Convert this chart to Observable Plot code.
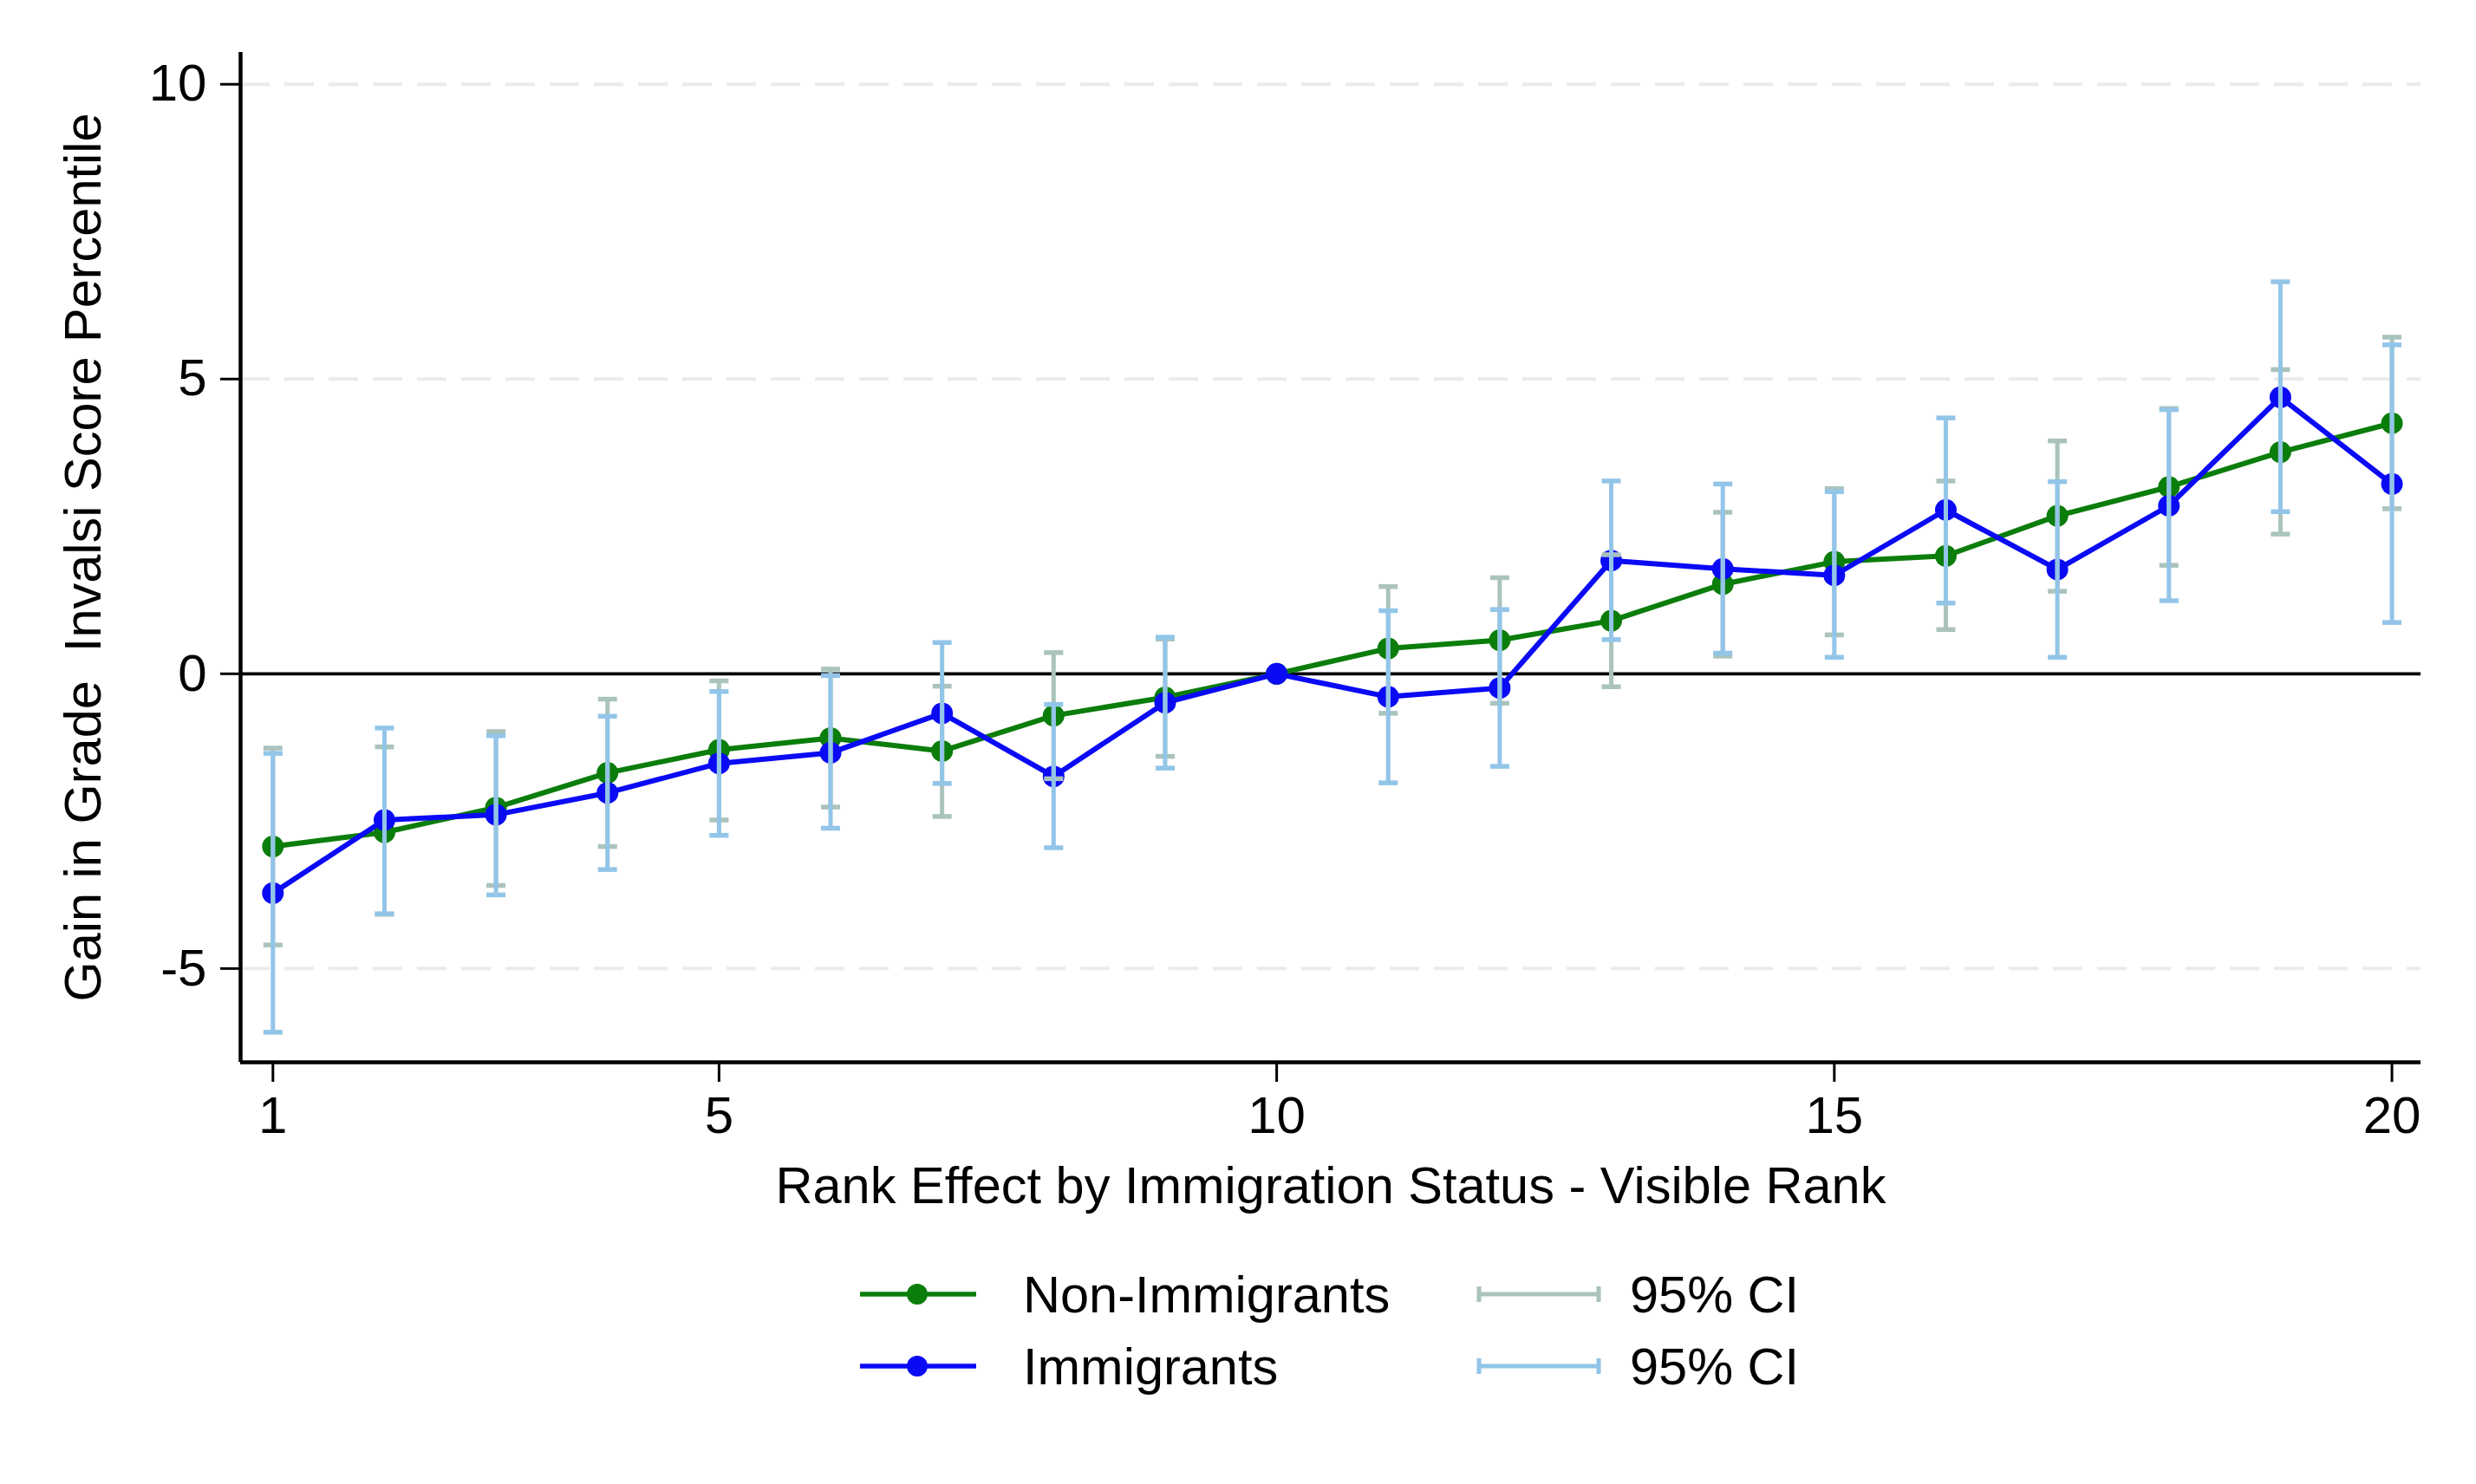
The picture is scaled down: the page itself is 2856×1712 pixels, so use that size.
<!DOCTYPE html>
<html>
<head>
<meta charset="utf-8">
<script src="https://cdn.jsdelivr.net/npm/d3@7"></script>
<script src="https://cdn.jsdelivr.net/npm/@observablehq/plot@0.6"></script>
<style>
html, body { margin: 0; padding: 0; background: #fff; }
#chart svg text { white-space: pre; }
#legend { display: block; }
</style>
</head>
<body>
<div id="chart"></div>
<div id="legend"></div>
<script>
// ---- data ----
const ranks = [1, 2, 3, 4, 5, 6, 7, 8, 9, 10, 11, 12, 13, 14, 15, 16, 17, 18, 19, 20];
const nonImmMean = [-2.93, -2.69, -2.27, -1.68, -1.29, -1.09, -1.31, -0.71, -0.40, 0, 0.43, 0.57, 0.90, 1.52, 1.90, 2.00, 2.68, 3.17, 3.76, 4.25];
const nonImmLo   = [-4.60, -4.08, -3.59, -2.93, -2.48, -2.26, -2.42, -1.78, -1.40, 0, -0.67, -0.50, -0.22, 0.30, 0.66, 0.75, 1.40, 1.84, 2.37, 2.80];
const nonImmHi   = [-1.26, -1.24, -0.98, -0.43, -0.12, 0.08, -0.21, 0.36, 0.59, 0, 1.48, 1.63, 2.02, 2.74, 3.14, 3.27, 3.95, 4.50, 5.16, 5.71];
const immMean = [-3.72, -2.48, -2.39, -2.02, -1.52, -1.34, -0.67, -1.74, -0.49, 0, -0.39, -0.24, 1.92, 1.78, 1.67, 2.78, 1.77, 2.85, 4.69, 3.22];
const immLo   = [-6.08, -4.07, -3.75, -3.32, -2.74, -2.62, -1.86, -2.95, -1.60, 0, -1.85, -1.57, 0.58, 0.35, 0.28, 1.20, 0.28, 1.24, 2.75, 0.87];
const immHi   = [-1.35, -0.92, -1.05, -0.72, -0.30, -0.03, 0.53, -0.52, 0.62, 0, 1.07, 1.09, 3.27, 3.22, 3.09, 4.34, 3.26, 4.48, 6.65, 5.58];
const xTicks = [1, 5, 10, 15, 20];
const yTicks = [-5, 0, 5, 10];
const gridValues = [-5, 5, 10];
const xDomain = [0.71, 20.26];
const yDomain = [-6.59, 10.54];
const xTitle = "Rank Effect by Immigration Status - Visible Rank";
const yTitle = "Gain in Grade  Invalsi Score Percentile";
const seriesNames = ["Non-Immigrants", "Immigrants"];
const ciName = "95% CI";

// ---- styles ----
const GREEN = "#0b7d0b";
const BLUE = "#0a0af5";
const GREY_CI = "#abc3bd";
const BLUE_CI = "#92c5e8";
const FONT = "'Liberation Sans', Arial, Helvetica, sans-serif";

const nonImm = ranks.map((r, i) => ({rank: r, mean: nonImmMean[i], lo: nonImmLo[i], hi: nonImmHi[i]}));
const imm = ranks.map((r, i) => ({rank: r, mean: immMean[i], lo: immLo[i], hi: immHi[i]}));
const nonImmCI = nonImm.filter(d => d.lo !== d.hi);
const immCI = imm.filter(d => d.lo !== d.hi);

// horizontal cap symbol for CI end caps (half-width = r)
const capSymbol = {
  draw(context, size) {
    const w = Math.sqrt(size / Math.PI);
    context.moveTo(-w, 0);
    context.lineTo(w, 0);
  }
};
const plainNum = d => `${d}`;

const W = 2856, H = 1400;
const chart = Plot.plot({
  width: W,
  height: H,
  marginLeft: 277,
  marginRight: 64,
  marginTop: 60,
  marginBottom: 175,
  style: {fontFamily: FONT, fontSize: "60px", background: "#fff", color: "#000"},
  x: {domain: xDomain, label: null},
  y: {domain: yDomain, label: null},
  marks: [
    Plot.ruleY(gridValues, {stroke: "#ebebeb", strokeWidth: 4, strokeDasharray: "34 17"}),
    Plot.ruleY([0], {stroke: "#000", strokeWidth: 3.8}),
    Plot.ruleX([xDomain[0]], {stroke: "#000", strokeWidth: 4.5}),
    Plot.ruleY([yDomain[0]], {stroke: "#000", strokeWidth: 4.5}),
    Plot.axisY({ticks: yTicks, tickFormat: plainNum, tickSize: 23, tickPadding: 16, strokeWidth: 3, fontSize: 60, label: null}),
    Plot.axisX({ticks: xTicks, tickFormat: plainNum, tickSize: 23, tickPadding: 16, strokeWidth: 3, fontSize: 60, label: null}),
    Plot.line(nonImm, {x: "rank", y: "mean", stroke: GREEN, strokeWidth: 6}),
    Plot.dot(nonImm, {x: "rank", y: "mean", r: 12.5, fill: GREEN, stroke: "none"}),
    Plot.line(imm, {x: "rank", y: "mean", stroke: BLUE, strokeWidth: 6}),
    Plot.dot(imm, {x: "rank", y: "mean", r: 12.5, fill: BLUE, stroke: "none"}),
    Plot.ruleX(nonImmCI, {x: "rank", y1: "lo", y2: "hi", stroke: GREY_CI, strokeWidth: 5}),
    Plot.dot(nonImmCI, {x: "rank", y: "lo", symbol: capSymbol, r: 11, stroke: GREY_CI, strokeWidth: 5.5, fill: "none"}),
    Plot.dot(nonImmCI, {x: "rank", y: "hi", symbol: capSymbol, r: 11, stroke: GREY_CI, strokeWidth: 5.5, fill: "none"}),
    Plot.ruleX(immCI, {x: "rank", y1: "lo", y2: "hi", stroke: BLUE_CI, strokeWidth: 5}),
    Plot.dot(immCI, {x: "rank", y: "lo", symbol: capSymbol, r: 11, stroke: BLUE_CI, strokeWidth: 5.5, fill: "none"}),
    Plot.dot(immCI, {x: "rank", y: "hi", symbol: capSymbol, r: 11, stroke: BLUE_CI, strokeWidth: 5.5, fill: "none"}),
    Plot.text([xTitle], {frameAnchor: "bottom", dy: 143, textAnchor: "middle", lineAnchor: "middle", fontSize: 59.5, fill: "#000"}),
    Plot.text([yTitle], {frameAnchor: "left", dx: -181, rotate: -90, textAnchor: "middle", lineAnchor: "middle", fontSize: 59.5, fill: "#000"})
  ]
});
document.getElementById("chart").appendChild(chart);

// ---- legend (below the plot) ----
const LH = 312;
const leg = d3.select("#legend").append("svg")
  .attr("width", W).attr("height", LH)
  .style("display", "block")
  .attr("font-family", FONT);
const rows = [93, 176];
const lineItems = [
  {name: seriesNames[0], color: GREEN},
  {name: seriesNames[1], color: BLUE}
];
const ciItems = [
  {name: ciName, color: GREY_CI},
  {name: ciName, color: BLUE_CI}
];
lineItems.forEach((it, i) => {
  const g = leg.append("g").attr("transform", `translate(0,${rows[i]})`);
  g.append("line").attr("x1", 992).attr("x2", 1126).attr("y1", 0).attr("y2", 0)
    .attr("stroke", it.color).attr("stroke-width", 5.5);
  g.append("circle").attr("cx", 1058).attr("cy", 0).attr("r", 12).attr("fill", it.color);
  g.append("text").attr("x", 1180).attr("y", 21).attr("font-size", 59.5).text(it.name);
});
ciItems.forEach((it, i) => {
  const g = leg.append("g").attr("transform", `translate(0,${rows[i]})`);
  g.append("line").attr("x1", 1706).attr("x2", 1844).attr("y1", 0).attr("y2", 0)
    .attr("stroke", it.color).attr("stroke-width", 5);
  g.append("line").attr("x1", 1706).attr("x2", 1706).attr("y1", -9).attr("y2", 9)
    .attr("stroke", it.color).attr("stroke-width", 5);
  g.append("line").attr("x1", 1844).attr("x2", 1844).attr("y1", -9).attr("y2", 9)
    .attr("stroke", it.color).attr("stroke-width", 5);
  g.append("text").attr("x", 1880).attr("y", 21).attr("font-size", 59.5).text(it.name);
});
</script>
</body>
</html>
